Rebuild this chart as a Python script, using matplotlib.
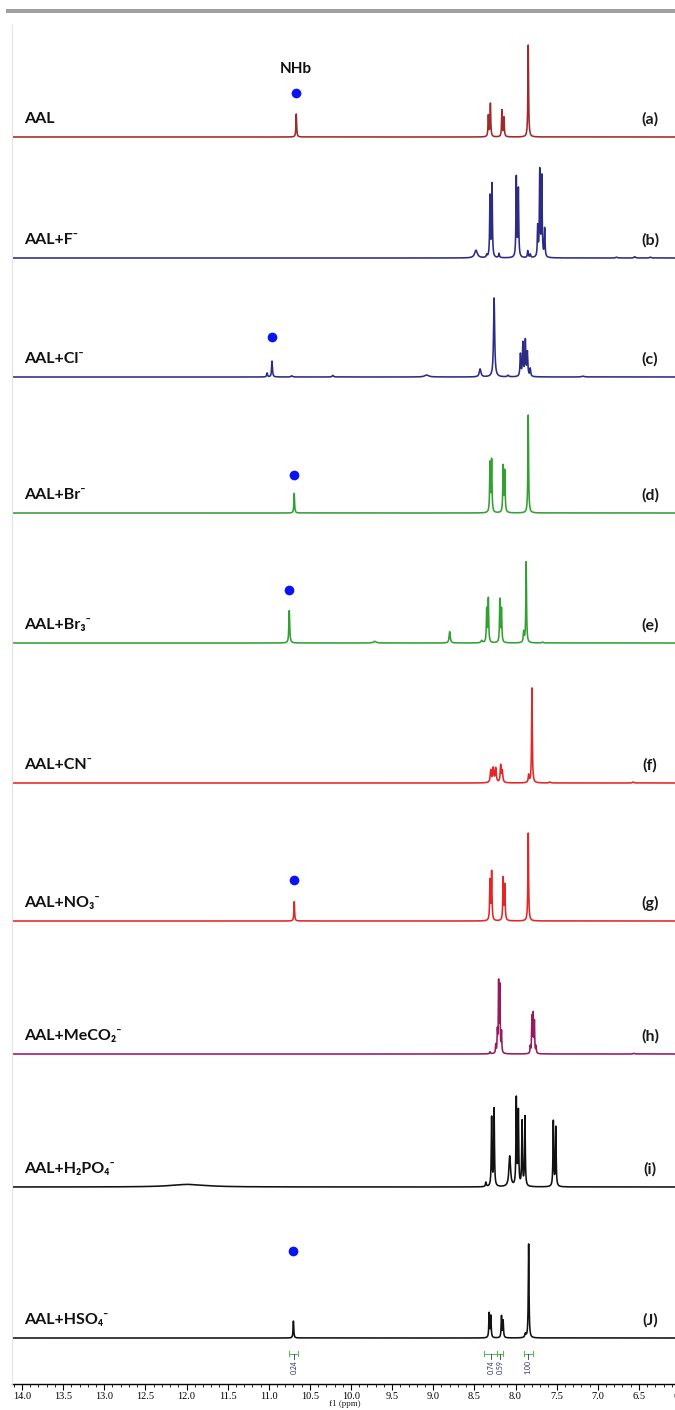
import numpy as np
import matplotlib.pyplot as plt
from matplotlib.patches import Rectangle
from matplotlib.lines import Line2D
from matplotlib.ticker import MultipleLocator, FormatStrFormatter

W, H = 675, 1410

# ---- data: peak lists (ppm, relative height, half width in ppm) ----
names = ["AAL", "AAL+F⁻", "AAL+Cl⁻", "AAL+Br⁻", "AAL+Br₃⁻", "AAL+CN⁻",
         "AAL+NO₃⁻", "AAL+MeCO₂⁻", "AAL+H₂PO₄⁻", "AAL+HSO₄⁻"]
tags = ["(a)", "(b)", "(c)", "(d)", "(e)", "(f)", "(g)", "(h)", "(i)", "(J)"]

peaks_a = [(10.665, 0.25, .005), (8.33, 0.23, .005), (8.305, 0.36, .005),
           (8.165, 0.29, .005), (8.14, 0.21, .005), (7.845, 1.0, .005)]
peaks_b = [(8.48, 0.09, .02), (8.35, 0.03, .006), (8.31, 0.71, .005),
           (8.285, 0.85, .005), (8.20, 0.05, .006), (7.99, 0.93, .005),
           (7.965, 0.79, .005), (7.85, 0.08, .006), (7.82, 0.04, .006),
           (7.73, 0.35, .005), (7.705, 1.0, .005), (7.68, 0.93, .005),
           (7.645, 0.33, .005), (6.77, 0.01, .01), (6.55, 0.015, .01),
           (6.36, 0.01, .01)]
peaks_c = [(11.02, 0.05, .006), (10.96, 0.2, .006), (10.72, 0.015, .01),
           (10.22, 0.02, .01), (9.08, 0.025, .03), (8.43, 0.1, .012),
           (8.26, 1.0, .008), (8.09, 0.02, .01), (7.94, 0.28, .006),
           (7.91, 0.42, .006), (7.88, 0.45, .006), (7.855, 0.3, .006),
           (7.82, 0.1, .006), (7.18, 0.01, .02)]
peaks_d = [(10.69, 0.2, .005), (8.31, 0.50, .005), (8.29, 0.53, .005),
           (8.15, 0.47, .005), (8.13, 0.42, .005), (7.845, 1.0, .005)]
peaks_e = [(10.75, 0.4, .006), (9.71, 0.02, .02), (8.80, 0.14, .008),
           (8.41, 0.03, .01), (8.35, 0.41, .005), (8.33, 0.54, .005),
           (8.19, 0.53, .005), (8.17, 0.41, .005), (7.90, 0.13, .006),
           (7.87, 1.0, .005), (7.67, 0.01, .01)]
peaks_f = [(8.30, 0.13, .008), (8.27, 0.15, .008), (8.24, 0.15, .008),
           (8.18, 0.18, .007), (8.16, 0.12, .007), (7.84, 0.08, .006),
           (7.80, 1.0, .005), (7.58, 0.01, .01), (6.57, 0.01, .01)]
peaks_g = [(10.69, 0.22, .005), (8.31, 0.45, .005), (8.29, 0.55, .005),
           (8.15, 0.48, .005), (8.13, 0.40, .005), (7.845, 1.0, .005)]
peaks_h = [(8.31, 0.03, .006), (8.24, 0.12, .004), (8.22, 0.30, .004),
           (8.205, 1.0, .004), (8.19, 0.95, .004), (8.17, 0.30, .004),
           (7.82, 0.10, .004), (7.80, 0.52, .004), (7.785, 0.55, .004),
           (7.77, 0.45, .004), (7.75, 0.10, .004), (6.56, 0.01, .01)]
peaks_i = [(11.98, 0.03, .25), (8.36, 0.05, .006), (8.29, 0.79, .005),
           (8.26, 0.89, .005), (8.07, 0.35, .012), (7.99, 1.0, .005),
           (7.965, 0.85, .005), (7.92, 0.74, .005), (7.885, 0.80, .005),
           (7.54, 0.75, .005), (7.51, 0.68, .005)]
peaks_j = [(10.70, 0.18, .005), (8.32, 0.26, .005), (8.30, 0.23, .005),
           (8.17, 0.23, .005), (8.15, 0.18, .005), (7.88, 0.04, .008),
           (7.84, 1.0, .005)]
all_peaks = [peaks_a, peaks_b, peaks_c, peaks_d, peaks_e, peaks_f,
             peaks_g, peaks_h, peaks_i, peaks_j]

# NH marker (ppm, height) per panel, None = no marker
nh_dots = [(10.665, 0.48), None, (10.96, 0.51), (10.69, 0.39), (10.75, 0.66),
           None, (10.69, 0.47), None, None, (10.70, 0.93)]

integrals = [(10.75, 10.64, "0.24"), (8.38, 8.22, "0.74"),
             (8.22, 8.15, "0.59"), (7.90, 7.79, "1.00")]

colors = ["#a02a2a", "#2c2c86", "#2c2c86", "#33a033", "#33a033", "#e52626",
          "#e52626", "#951a5e", "#111111", "#111111"]

# ---- layout (pixels) ----
baselines = [137, 258, 377, 513, 643, 783, 921, 1054, 1187, 1338]
tall_px = [92, 86, 79, 98, 81, 95, 88, 69, 87, 94]
x_left, x_right = 12, 700
ppm_left = 14.0 + (22 - x_left) / 82.25
ppm_right = 14.0 - (x_right - 22) / 82.25

plt.rcParams['font.family'] = ['Lato', 'DejaVu Sans']

fig = plt.figure(figsize=(W / 100, H / 100), dpi=100)
fig.add_artist(Rectangle((6 / W, 1 - 13 / H), 1, 4 / H, transform=fig.transFigure,
                         color="#a0a0a0", lw=0))
fig.add_artist(Line2D([x_left / W, x_left / W], [1 - 25 / H, 1 - 1384 / H],
                      transform=fig.transFigure, color="#e4e4e4", lw=0.8))

ppm = np.arange(ppm_right, ppm_left, 0.0005)

for i, peaks in enumerate(all_peaks):
    yb = baselines[i]
    hp = tall_px[i]
    bottom = 1 - (yb + 6) / H
    ax = fig.add_axes([x_left / W, bottom, (x_right - x_left) / W, 126 / H])
    ax.set_xlim(ppm_left, ppm_right)
    ax.set_ylim(-6 / hp, 120 / hp)
    ax.axis("off")
    spec = np.zeros_like(ppm)
    for p0, h, w in peaks:
        spec += h * w ** 2 / ((ppm - p0) ** 2 + w ** 2)
    ax.plot(ppm, spec, color=colors[i], lw=1.15)
    if nh_dots[i] is not None:
        ax.plot(nh_dots[i][0], nh_dots[i][1], "o", color="#0a14f0", ms=7, mew=0)
    fig.text(24 / W, 1 - (yb - 18) / H, names[i], fontsize=11.5, fontweight="bold",
             va="center", ha="left", color="#111111")
    fig.text(650 / W, 1 - (yb - 18) / H, tags[i], fontsize=11.5, fontweight="bold",
             va="center", ha="center", color="#1a1a1a")
    if i == 0:
        ax.text(nh_dots[0][0], nh_dots[0][1] + 17 / hp, "NHb", fontsize=11,
                fontweight="bold", ha="center", va="bottom", color="#111111")

# bottom axis with integrals
axb = fig.add_axes([x_left / W, 1 - 1384 / H, (x_right - x_left) / W, 38 / H])
axb.set_xlim(ppm_left, ppm_right)
axb.set_ylim(0, 1)
for s in ["top", "left", "right"]:
    axb.spines[s].set_visible(False)
axb.spines["bottom"].set_linewidth(1.0)
axb.set_yticks([])
axb.xaxis.set_major_locator(MultipleLocator(0.5))
axb.xaxis.set_minor_locator(MultipleLocator(0.1))
axb.xaxis.set_major_formatter(FormatStrFormatter("%.1f"))
axb.tick_params(axis="x", which="major", length=4, width=0.8, labelsize=7.5, pad=2)
axb.tick_params(axis="x", which="minor", length=2, width=0.6)
for lab in axb.get_xticklabels():
    lab.set_family("Liberation Serif")

for p1, p2, val in integrals:
    yi = 0.8
    axb.plot([p1, p2], [yi, yi], color="#5cb85c", lw=0.8)
    axb.plot([p1, p1], [yi - 0.06, yi + 0.06], color="#5cb85c", lw=0.8)
    axb.plot([p2, p2], [yi - 0.06, yi + 0.06], color="#5cb85c", lw=0.8)
    pc = (p1 + p2) / 2
    axb.plot([pc, pc], [yi, yi - 0.15], color="#333366", lw=0.6)
    axb.text(pc, yi - 0.17, val, rotation=90, fontsize=5, ha="center", va="top",
             color="#2a2a70")

fig.text(345 / W, 1 - 1404 / H, "f1 (ppm)", fontsize=6.5, ha="center", va="center",
         family="Liberation Serif", color="#222222")

fig.savefig("out.png", dpi=100)
